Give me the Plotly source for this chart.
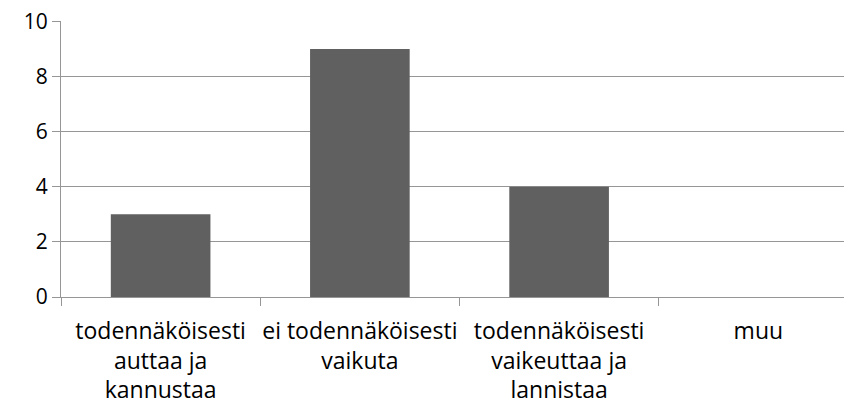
import plotly.graph_objects as go

categories = [
    "todennäköisesti<br>auttaa ja<br>kannustaa",
    "ei todennäköisesti<br>vaikuta",
    "todennäköisesti<br>vaikeuttaa ja<br>lannistaa",
    "muu",
]
values = [3, 9, 4, 0]
y_ticks = [0, 2, 4, 6, 8, 10]

AXIS = "#969696"

# page body has an 8px margin, so the figure is shrunk by 8px to fit the window
fig = go.Figure(go.Bar(
    x=categories, y=values,
    marker=dict(color="#606060", line=dict(width=0)),
    hoverinfo="skip",
))
fig.update_layout(
    width=844, height=402,
    bargap=0.5,
    paper_bgcolor="white",
    plot_bgcolor="white",
    font=dict(family="Open Sans, Calibri, sans-serif", size=21, color="#000000"),
    showlegend=False,
    margin=dict(l=53, r=0, t=13, b=113),
    xaxis=dict(
        range=[-0.5, 3.47],
        tickson="boundaries",
        ticks="outside", ticklen=8, tickcolor=AXIS, tickwidth=1,
        showline=True, linecolor=AXIS, linewidth=1,
        showgrid=False,
        tickangle=0,
        tickfont=dict(size=23),
        ticklabelstandoff=13,
        automargin=False,
    ),
    yaxis=dict(
        range=[0, 10.02],
        tickvals=y_ticks,
        ticks="outside", ticklen=8, tickcolor=AXIS, tickwidth=1,
        showline=True, linecolor=AXIS, linewidth=1,
        showgrid=True, gridcolor=AXIS, gridwidth=1,
        zeroline=False,
        ticklabeloverflow="allow",
        automargin=False,
    ),
)
fig.write_html("out.html")
